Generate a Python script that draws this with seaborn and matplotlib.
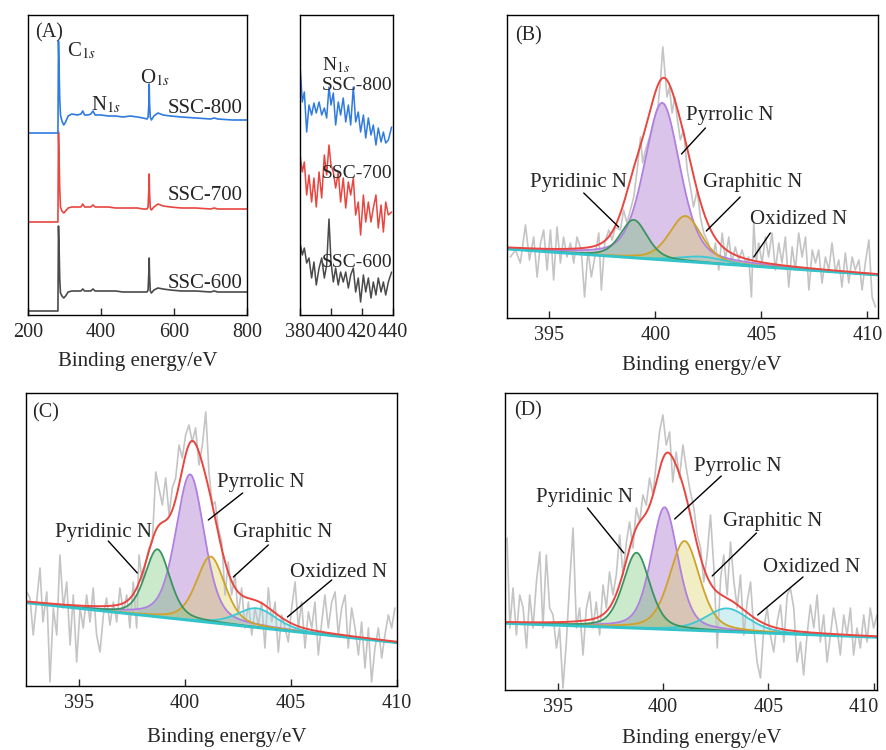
import numpy as np
import pandas as pd
import matplotlib
matplotlib.use("Agg")
import matplotlib.pyplot as plt
from matplotlib.transforms import ScaledTranslation
import seaborn as sns

sns.set_style("white")
plt.rcParams["font.family"] = ["Liberation Serif", "DejaVu Serif"]
plt.rcParams["mathtext.fontset"] = "stix"

# ---------------- Panel A : survey spectra ----------------
survey_ev = [200, 282, 283.5, 285, 287, 289, 293, 298, 303, 310,
             320, 335, 345, 350, 355, 365, 372, 378, 384, 400,
             420, 440, 460, 480, 500, 515, 526, 529, 531, 532,
             533, 535, 538, 545, 556, 570, 590, 620, 660, 700,
             710, 720, 760, 800]
ssc800 = [182, 182, 274, 250, 215, 200, 194, 190, 193, 199,
          201, 200, 201, 204, 200, 200, 201, 204, 200, 200,
          199, 199, 198, 199, 198, 197, 196, 198, 210, 231,
          212, 198, 195, 199, 202, 200, 199, 198, 197, 196,
          197, 196, 195, 195]
ssc700 = [93, 93, 183, 160, 125, 108, 104, 102, 104, 107,
          108, 108, 108, 111, 108, 108, 108, 110, 108, 108,
          108, 107, 107, 107, 107, 106, 106, 108, 125, 141,
          122, 107, 105, 108, 111, 109, 108, 107, 107, 106,
          107, 106, 106, 106]
ssc600 = [4, 4, 89, 70, 35, 22, 19, 17, 19, 23,
          24, 24, 24, 26, 24, 24, 24, 26, 24, 24,
          24, 24, 23, 23, 23, 23, 23, 25, 42, 57,
          40, 24, 22, 25, 27, 26, 25, 24, 24, 23,
          24, 23, 23, 23]

# N1s zoom inset
inset_ev = [380.0, 381.5, 382.8, 384.3, 385.8, 387.5, 389.0, 390.5, 392.3, 394.0,
            395.7, 397.2, 398.7, 400.0, 401.5, 403.0, 404.7, 406.2, 407.9, 409.5,
            411.2, 412.7, 414.4, 415.9, 417.6, 419.1, 420.9, 422.4, 424.1, 425.8,
            427.3, 429.0, 430.5, 432.3, 433.8, 435.3, 437.0, 439.1]
inset800 = [250, 213, 223, 183, 210, 200, 212, 202, 213, 200,
            207, 197, 228, 210, 222, 190, 213, 200, 217, 193,
            210, 190, 228, 193, 203, 183, 200, 177, 197, 180,
            190, 170, 187, 173, 183, 172, 175, 188]
inset700 = [160, 143, 153, 120, 140, 113, 137, 108, 143, 117,
            160, 140, 170, 150, 143, 127, 143, 113, 137, 107,
            133, 120, 137, 100, 113, 80, 120, 93, 113, 93,
            107, 120, 87, 110, 83, 113, 100, 103]
inset600 = [72, 60, 67, 52, 57, 37, 53, 30, 47, 57,
            37, 50, 96, 53, 33, 47, 30, 43, 33, 43,
            27, 40, 47, 23, 37, 13, 40, 23, 37, 17,
            33, 20, 37, 23, 33, 20, 33, 43]

# ---------------- Panels B, C, D : N1s high resolution ----------------
comp_names = ["Pyridinic N", "Pyrrolic N", "Graphitic N", "Oxidized N"]
hr_ticks = [395, 400, 405, 410]

b_raw_ev = [393.16, 393.4, 393.63, 393.87, 394.06, 394.26, 394.42, 394.58, 394.73, 394.89,
            395.05, 395.2, 395.36, 395.52, 395.67, 395.83, 395.99, 396.15, 396.3, 396.5,
            396.66, 396.82, 396.98, 397.14, 397.33, 397.45, 397.61, 397.8, 397.96, 398.11,
            398.35, 398.5, 398.66, 398.82, 398.98, 399.14, 399.3, 399.4, 399.53, 399.68,
            399.84, 399.97, 400.12, 400.24, 400.35, 400.44, 400.55, 400.66, 400.79, 400.91,
            401.02, 401.18, 401.33, 401.5, 401.65,
            401.8, 401.97, 402.12, 402.28, 402.5, 402.67, 402.83, 402.99, 403.15, 403.3,
            403.46, 403.6, 403.77, 403.93, 404.09, 404.25, 404.4, 404.53, 404.64, 404.76,
            404.87, 405.03, 405.19, 405.34, 405.5, 405.66, 405.82, 405.97, 406.13, 406.29,
            406.45, 406.6, 406.76, 406.92, 407.08, 407.24, 407.4, 407.55, 407.7, 407.86,
            408.02, 408.18, 408.33, 408.5, 408.65, 408.8, 408.96, 409.12, 409.28, 409.43,
            409.6, 409.75, 409.9, 410.07, 410.22, 410.38]
b_raw_int = [61, 68, 55, 93, 58, 81, 41, 75, 88, 48,
             88, 38, 91, 55, 81, 61, 75, 55, 81, 68,
             21, 68, 41, 61, 85, 28, 75, 88, 78, 91,
             88, 108, 95, 108, 121, 148, 181, 155, 168, 178,
             188, 201, 211, 238, 271, 248, 221, 231, 205, 221,
             201, 178, 188, 148, 131,
             111, 128, 101, 85, 75, 55, 75, 48, 85, 58,
             81, 55, 71, 58, 68, 55, 61, 21, 95, 55,
             75, 55, 81, 61, 85, 48, 75, 55, 81, 31,
             71, 48, 85, 61, 81, 28, 68, 55, 68, 35,
             61, 48, 75, 45, 58, 31, 65, 35, 61, 48,
             58, 28, 55, 78, 21, 11]
b_base_ev = [393.0, 410.5]
b_base_int = [69, 43]
b_center = [398.98, 400.32, 401.42, 402.2]
b_amp = [38, 157, 45.5, 6]
b_fwhm = [1.5, 2.0, 1.8, 2.5]

c_raw_ev = [392.53, 392.69, 392.84, 393.0, 393.16, 393.3, 393.48, 393.63, 393.79, 393.95,
            394.1, 394.26, 394.42, 394.58, 394.73, 394.89, 395.05, 395.2, 395.36, 395.52,
            395.67, 395.83, 395.99, 396.15, 396.3, 396.46, 396.62, 396.78, 396.93, 397.09,
            397.25, 397.4, 397.56, 397.72, 397.83, 397.99, 398.15, 398.3, 398.46, 398.62,
            398.77, 398.93, 399.09, 399.25, 399.4, 399.56, 399.72, 399.87, 400.03, 400.19,
            400.34, 400.5, 400.66, 400.82, 400.98, 401.13, 401.29,
            401.42, 401.57, 401.73, 401.89, 402.04, 402.2, 402.36, 402.51, 402.67, 402.83,
            402.99, 403.15, 403.3, 403.46, 403.62, 403.77, 403.93, 404.09, 404.25, 404.4,
            404.56, 404.72, 404.87, 405.03, 405.19, 405.35, 405.5, 405.66, 405.82, 405.98,
            406.13, 406.29, 406.45, 406.6, 406.76, 406.92, 407.08, 407.23, 407.39, 407.55,
            407.7, 407.86, 408.02, 408.18, 408.33, 408.49, 408.65, 408.8, 408.96, 409.12,
            409.28, 409.43, 409.59, 409.75, 409.9]
c_raw_int = [94, 88, 51, 84, 118, 64, 94, 4, 78, 51,
             131, 78, 104, 41, 91, 24, 78, 58, 91, 64,
             98, 51, 34, 71, 88, 61, 84, 64, 98, 74,
             91, 58, 104, 58, 131, 104, 124, 138, 144, 214,
             198, 181, 208, 171, 198, 208, 241, 228, 251, 261,
             244, 258, 221, 241, 274, 214, 181,
             184, 158, 144, 91, 124, 91, 111, 71, 98, 58,
             84, 51, 78, 61, 84, 38, 98, 64, 84, 34,
             71, 58, 44, 78, 104, 58, 84, 38, 74, 58,
             84, 31, 64, 91, 58, 84, 94, 51, 78, 91,
             38, 78, 58, 31, 64, 18, 58, 4, 38, 58,
             28, 51, 71, 58, 78]
c_base_ev = [392.5, 410.0]
c_base_int = [83.3, 43.3]
c_center = [398.7, 400.24, 401.21, 403.38]
c_amp = [67.6, 146, 66, 19.3]
c_fwhm = [1.4, 1.6, 1.6, 2.2]

d_raw_ev = [392.6, 392.73, 392.88, 393.04, 393.2, 393.36, 393.52, 393.67, 393.83, 393.99,
            394.15, 394.3, 394.46, 394.62, 394.78, 394.94, 395.09, 395.25, 395.41, 395.57,
            395.73, 395.89, 396.04, 396.2, 396.36, 396.52, 396.67, 396.83, 396.99, 397.15,
            397.31, 397.46, 397.62, 397.78, 397.94, 398.1, 398.26, 398.41, 398.57, 398.73,
            398.89, 399.04, 399.2, 399.36, 399.52, 399.68, 399.83, 399.99, 400.15, 400.31,
            400.46, 400.62, 400.78, 400.94, 401.1, 401.26,
            401.46, 401.62, 401.78, 401.93, 402.09, 402.25, 402.41, 402.57, 402.73, 402.88,
            403.04, 403.2, 403.36, 403.52, 403.67, 403.83, 403.99, 404.15, 404.3, 404.46,
            404.62, 404.78, 404.94, 405.09, 405.25, 405.41, 405.57, 405.73, 405.89, 406.04,
            406.2, 406.36, 406.52, 406.67, 406.83, 406.99, 407.15, 407.31, 407.46, 407.62,
            407.78, 407.94, 408.09, 408.25, 408.41, 408.57, 408.73, 408.89, 409.04, 409.2,
            409.36, 409.52, 409.68, 409.83, 409.99, 410.15]
d_raw_int = [152, 62, 102, 55, 95, 82, 42, 95, 62, 108,
             138, 62, 135, 82, 75, 42, 62, 2, 48, 108,
             162, 62, 82, 35, 82, 98, 62, 88, 55, 105,
             82, 118, 95, 115, 155, 115, 148, 168, 142, 182,
             168, 195, 185, 212, 195, 228, 258, 275, 245, 258,
             208, 238, 212, 245, 222, 202,
             182, 155, 142, 108, 135, 175, 122, 42, 112, 135,
             95, 148, 108, 82, 115, 55, 88, 108, 62, 28,
             12, 62, 82, 55, 38, 68, 85, 48, 95, 102,
             82, 28, 48, 15, 55, 85, 62, 95, 48, 75,
             28, 55, 82, 62, 35, 75, 55, 82, 35, 62,
             42, 75, 48, 82, 62, 75]
d_base_ev = [392.5, 410.15]
d_base_int = [66.7, 52.7]
d_center = [398.74, 400.07, 401.02, 403.04]
d_amp = [75.5, 122, 89, 23.3]
d_fwhm = [1.5, 1.5, 1.7, 2.4]

# ---------------- styling ----------------
TICK_FS = 14.5
LAB_FS = 15
ANN_FS = 15
C_BLUE, C_RED, C_DARK = "#2f7be0", "#e84640", "#4a4a4a"
RAW_C = "#c4c4c4"
ENV_C = "#e8463f"
BASE_C = "#33c3cb"
LINE_C = ["#3b9460", "#b07fe0", "#d1a22a", "#3cc9d2"]
FILL_C = ["#5cbf60", "#a066c8", "#d6c84a", "#6ad0d8"]
FILL_A = [0.32, 0.38, 0.32, 0.30]


def pseudo_voigt(x, c, a, w, eta=0.4):
    s = w / 2.3548
    g = np.exp(-(x - c) ** 2 / (2 * s * s))
    l = 1.0 / (1.0 + ((x - c) / (w / 2.0)) ** 2)
    return a * ((1 - eta) * g + eta * l)


def style_axis(ax, xlim, xticks, ylim):
    ax.set_xlim(*xlim)
    ax.set_ylim(*ylim)
    ax.set_xticks(xticks)
    ax.set_yticks([])
    ax.tick_params(axis="x", direction="in", length=5, width=1.0,
                   labelsize=TICK_FS, pad=6, bottom=True, top=False)
    for sp in ax.spines.values():
        sp.set_color("black")
        sp.set_linewidth(1.0)
    ax.set_xlabel("")
    ax.set_ylabel("")


fig = plt.figure(figsize=(8.86, 7.5), dpi=100)

# ---------- A main ----------
axA = fig.add_axes([28 / 886, 1 - 315 / 750, 219 / 886, 300 / 750])
for vals, col in [(ssc600, C_DARK), (ssc700, C_RED), (ssc800, C_BLUE)]:
    sns.lineplot(x=survey_ev, y=vals, ax=axA, color=col, lw=1.2,
                 sort=False, estimator=None)
style_axis(axA, (200, 800), [200, 400, 600, 800], (0, 300))
axA.text(219, 278, "(A)", fontsize=14.5, ha="left", va="baseline")
axA.text(307, 259, r"C$_{1s}$", fontsize=ANN_FS, ha="left", va="baseline")
axA.text(507, 232, r"O$_{1s}$", fontsize=ANN_FS, ha="left", va="baseline")
axA.text(372, 205, r"N$_{1s}$", fontsize=ANN_FS, ha="left", va="baseline")
for lab, yy in [("SSC-800", 202), ("SSC-700", 115), ("SSC-600", 27)]:
    axA.text(788, yy, lab, fontsize=ANN_FS, ha="right", va="baseline")
axA.text(0.502, -0.155, "Binding energy/eV", transform=axA.transAxes,
         fontsize=LAB_FS, ha="center", va="center")

# ---------- A inset ----------
axI = fig.add_axes([300 / 886, 1 - 315 / 750, 93 / 886, 300 / 750])
for vals, col in [(inset600, C_DARK), (inset700, C_RED), (inset800, C_BLUE)]:
    sns.lineplot(x=inset_ev, y=vals, ax=axI, color=col, lw=1.1,
                 sort=False, estimator=None)
style_axis(axI, (380, 440), [380, 400, 420, 440], (0, 300))
axI.text(394, 245, r"N$_{1s}$", fontsize=14, ha="left", va="baseline")
for lab, yy in [("SSC-800", 225), ("SSC-700", 137), ("SSC-600", 48)]:
    axI.text(394, yy, lab, fontsize=14, ha="left", va="baseline")


# ---------- B, C, D ----------
def draw_fit(ax, raw_ev, raw_int, base_ev, base_int, centers, amps, fwhms, xlim, ylim):
    sns.lineplot(x=raw_ev, y=raw_int, ax=ax, color=RAW_C, lw=1.2,
                 sort=False, estimator=None)
    grid = np.linspace(xlim[0], xlim[1], 600)
    base = np.interp(grid, base_ev, base_int)
    comps = [pseudo_voigt(grid, c, a, w) for c, a, w in zip(centers, amps, fwhms)]
    order = [1, 2, 3, 0]
    for i in order:
        ax.fill_between(grid, base, base + comps[i], color=FILL_C[i],
                        alpha=FILL_A[i], lw=0)
    for i in order:
        sns.lineplot(x=grid, y=base + comps[i], ax=ax, color=LINE_C[i], lw=1.3,
                     sort=False, estimator=None)
    sns.lineplot(x=grid, y=base, ax=ax, color=BASE_C, lw=2.0,
                 sort=False, estimator=None)
    sns.lineplot(x=grid, y=base + sum(comps), ax=ax, color=ENV_C, lw=1.4,
                 sort=False, estimator=None)
    style_axis(ax, xlim, hr_ticks, ylim)


def annotate(ax, text, txt_xy, line_from, line_to):
    ax.text(txt_xy[0], txt_xy[1], text, fontsize=ANN_FS, ha="left", va="baseline")
    ax.annotate("", xy=line_to, xytext=line_from,
                arrowprops=dict(arrowstyle="-", color="black", lw=1.0,
                                shrinkA=0, shrinkB=0))


axB = fig.add_axes([507 / 886, 1 - 318 / 750, 371 / 886, 303 / 750])
draw_fit(axB, b_raw_ev, b_raw_int, b_base_ev, b_base_int, b_center, b_amp, b_fwhm,
         (393.0, 410.5), (0, 303))
axB.text(393.38, 278, "(B)", fontsize=14.5, ha="left", va="baseline")
annotate(axB, "Pyrrolic N", (401.42, 198), (402.36, 190), (401.23, 164))
annotate(axB, "Pyridinic N", (394.1, 131), (396.62, 125), (398.27, 91))
annotate(axB, "Graphitic N", (402.25, 131), (404.0, 121), (402.4, 87))
annotate(axB, "Oxidized N", (404.48, 94), (405.42, 85), (404.64, 61))
axB.text(0.526, -0.158, "Binding energy/eV", transform=axB.transAxes,
         fontsize=LAB_FS, ha="center", va="center")

axC = fig.add_axes([26 / 886, 1 - 686 / 750, 371 / 886, 293 / 750])
draw_fit(axC, c_raw_ev, c_raw_int, c_base_ev, c_base_int, c_center, c_amp, c_fwhm,
         (392.5, 410.0), (0, 293))
axC.text(392.77, 269, "(C)", fontsize=14.5, ha="left", va="baseline")
annotate(axC, "Pyrrolic N", (401.52, 199), (402.72, 193), (401.1, 166))
annotate(axC, "Pyridinic N", (393.87, 149), (396.38, 145), (397.75, 113))
annotate(axC, "Graphitic N", (402.27, 149), (403.93, 141), (402.28, 109))
annotate(axC, "Oxidized N", (404.95, 109), (406.92, 106), (404.83, 69))
axC.text(0.542, -0.177, "Binding energy/eV", transform=axC.transAxes,
         fontsize=LAB_FS, ha="center", va="center")

axD = fig.add_axes([505 / 886, 1 - 690 / 750, 372 / 886, 297 / 750])
draw_fit(axD, d_raw_ev, d_raw_int, d_base_ev, d_base_int, d_center, d_amp, d_fwhm,
         (392.5, 410.15), (0, 297))
axD.text(392.91, 275, "(D)", fontsize=14.5, ha="left", va="baseline")
annotate(axD, "Pyrrolic N", (401.49, 219), (402.76, 214), (400.55, 171))
annotate(axD, "Pyridinic N", (393.96, 188), (396.41, 182), (398.14, 137))
annotate(axD, "Graphitic N", (402.85, 164), (404.43, 157), (402.33, 114))
annotate(axD, "Oxidized N", (404.76, 118), (406.64, 113), (404.49, 75))
axD.text(0.53, -0.162, "Binding energy/eV", transform=axD.transAxes,
         fontsize=LAB_FS, ha="center", va="center")

# panel D: its last tick label sits at the figure edge; draw it nudged inward
axD.set_xticklabels([str(t) for t in hr_ticks[:-1]] + [""])
axD.text(hr_ticks[-1], 0, str(hr_ticks[-1]), fontsize=TICK_FS, ha="center", va="top",
         transform=axD.get_xaxis_transform()
         + ScaledTranslation(-7 / 72, -6 / 72, fig.dpi_scale_trans))

fig.savefig("out.png", dpi=100)
